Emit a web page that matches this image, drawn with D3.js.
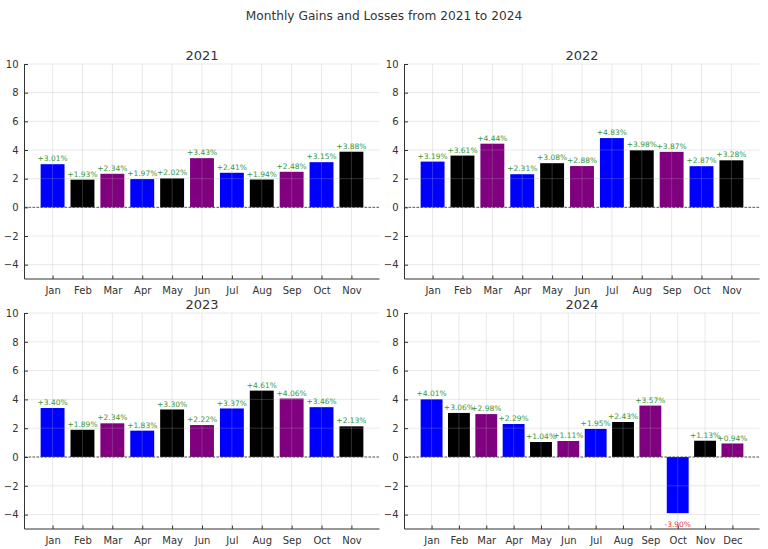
<!DOCTYPE html>
<html><head><meta charset="utf-8">
<script src="https://cdn.jsdelivr.net/npm/d3@7"></script>
<style>body{margin:0;background:#fff}svg{display:block;font-family:"DejaVu Sans",sans-serif}</style>
</head><body>
<svg id="c" width="768" height="549"></svg>
<script>
const years = ["2021","2022","2023","2024"];
const months = ["Jan","Feb","Mar","Apr","May","Jun","Jul","Aug","Sep","Oct","Nov","Dec"];
const values2021 = [3.01,1.93,2.34,1.97,2.02,3.43,2.41,1.94,2.48,3.15,3.88];
const values2022 = [3.19,3.61,4.44,2.31,3.08,2.88,4.83,3.98,3.87,2.87,3.28];
const values2023 = [3.40,1.89,2.34,1.83,3.30,2.22,3.37,4.61,4.06,3.46,2.13];
const values2024 = [4.01,3.06,2.98,2.29,1.04,1.11,1.95,2.43,3.57,-3.90,1.13,0.94];
const yTicks = [-4,-2,0,2,4,6,8,10];
const barColors = ["#0000ff","#000000","#800080"];
const series = [values2021, values2022, values2023, values2024];

const svg = d3.select("#c");
svg.append("text").attr("x",384).attr("y",20).attr("text-anchor","middle")
  .attr("font-size",12.2).attr("fill","#333").text("Monthly Gains and Losses from 2021 to 2024");

const panels = [
  {l:24.5,t:64,w:355,h:215},
  {l:404.5,t:64,w:355,h:215},
  {l:24.5,t:313,w:355,h:216},
  {l:404.5,t:313,w:355,h:216}
];

series.forEach((vals,pi)=>{
  const p = panels[pi];
  const n = vals.length;
  const span = (n-1)+0.8;
  const m = span*0.05;
  const x = d3.scaleLinear().domain([-0.4-m, n-1+0.4+m]).range([0,p.w]);
  const y = d3.scaleLinear().domain([-5,10]).range([p.h,0]);
  const g = svg.append("g").attr("transform",`translate(${p.l},${p.t})`);
  const idx = d3.range(n);

  g.append("text").attr("x",p.w/2).attr("y",-4).attr("text-anchor","middle")
    .attr("font-size",13).attr("fill","#333").text(years[pi]);

  // bars
  g.selectAll("rect.bar").data(vals).join("rect").attr("class","bar")
    .attr("x",(d,i)=>x(i-0.4)).attr("width",x(0.8)-x(0))
    .attr("y",d=>y(Math.max(0,d))).attr("height",d=>Math.abs(y(d)-y(0)))
    .attr("fill",(d,i)=>barColors[i%3]);

  // grid
  g.selectAll("line.gy").data(yTicks).join("line").attr("class","gy")
    .attr("x1",0).attr("x2",p.w).attr("y1",d=>y(d)).attr("y2",d=>y(d))
    .attr("stroke","#b0b0b0").attr("stroke-opacity",0.35).attr("stroke-width",0.8);
  g.selectAll("line.gx").data(idx).join("line").attr("class","gx")
    .attr("y1",0).attr("y2",p.h).attr("x1",d=>x(d)).attr("x2",d=>x(d))
    .attr("stroke","#b0b0b0").attr("stroke-opacity",0.35).attr("stroke-width",0.8);

  // zero line
  g.append("line").attr("x1",0).attr("x2",p.w).attr("y1",y(0)).attr("y2",y(0))
    .attr("stroke","#333").attr("stroke-width",0.8).attr("stroke-dasharray","2.5,1.5");

  // labels
  g.selectAll("text.lbl").data(vals).join("text").attr("class","lbl")
    .attr("x",(d,i)=>x(i)).attr("text-anchor","middle").attr("font-size",7.5)
    .attr("y",d=>d>=0 ? y(d+0.1)-1.5 : y(d-0.5)+7)
    .attr("fill",d=>d>=0?"#3a963a":"#e04040")
    .text(d=>(d>=0?"+":"")+d.toFixed(2)+"%");

  // axes
  const ya = d3.axisLeft(y).tickValues(yTicks).tickSize(-3.5).tickPadding(6)
    .tickFormat(d=>d<0?"\u2212"+Math.abs(d):d);
  const yg = g.append("g").call(ya);
  const xa = d3.axisBottom(x).tickValues(idx).tickSize(-3.5).tickPadding(8)
    .tickFormat(i=>months[i]);
  const xg = g.append("g").attr("transform",`translate(0,${p.h})`).call(xa);
  [yg,xg].forEach(a=>{
    a.select(".domain").attr("stroke","#333").attr("stroke-width",1);
    a.selectAll(".tick line").attr("stroke","#333");
    a.selectAll(".tick text").attr("fill","#333").attr("font-size",10).attr("font-family","DejaVu Sans, sans-serif");
  });
  yg.select(".domain").attr("d",`M0,${p.h}V0`);
  xg.select(".domain").attr("d",`M0,0H${p.w}`);
});
</script>
</body></html>
